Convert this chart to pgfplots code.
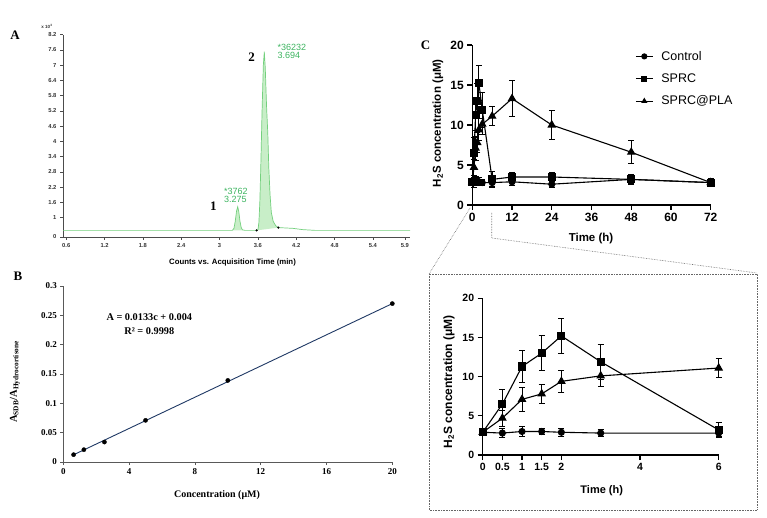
\documentclass[border=0pt]{standalone}
\usepackage{pgfplots}
\pgfplotsset{compat=1.18}
\usepackage{pgfplotstable}
\usepackage{fontspec}
\setmainfont{Liberation Serif}
\setsansfont{Liberation Sans}

\definecolor{gline}{RGB}{115,208,125}
\definecolor{gfill}{RGB}{200,238,200}
\definecolor{gtext}{RGB}{60,180,95}
\definecolor{navy}{RGB}{31,56,100}
\newcommand{\fs}[1]{\fontsize{#1}{#1}\selectfont}

% H2S release: time, control, sd, SPRC, sd, SPRC@PLA, sd
\pgfplotstableread{
t   c   ce   s    se   p    pe
0   2.9 0.4  2.9  0.4  2.9  0.4
0.5 2.8 0.6  6.5  1.9  4.7  1.0
1   3.0 0.6  11.3 2.0  7.1  1.5
1.5 3.0 0.4  13.0 2.2  7.8  1.2
2   2.9 0.5  15.2 2.2  9.4  1.4
3   2.8 0.4  11.9 2.2  10.1 1.3
6   2.8 0.5  3.2  1.0  11.1 1.2
12  2.9 0.5  3.5  0.5  13.3 2.2
24  2.6 0.4  3.5  0.6  10.0 1.8
48  3.2 0.5  3.2  0.6  6.6  1.4
72  2.8 0.4  2.8  0.5  2.8  0.4
}\hsdata

\pgfplotsset{
  gp/.style={scale only axis, axis x line*=bottom, axis y line*=left,
    tick align=outside, major tick length=5pt, clip=false,
    axis line style={line width=1.2pt}, tick style={line width=1.2pt, black},
    /pgf/number format/assume math mode=true},
  ser/.style={black, line width=1.1pt, mark=#1,
    /pgfplots/error bars/y dir=both, /pgfplots/error bars/y explicit,
    /pgfplots/error bars/error bar style={line width=1pt, black},
    /pgfplots/error bars/error mark options={rotate=90, mark size=3pt, line width=1pt, black}},
}

\begin{document}
\begin{tikzpicture}
\useasboundingbox (0pt,0pt) rectangle (767pt,-518pt);

% ---------- A: chromatogram
\begin{axis}[at={(63pt,-237pt)}, anchor=south west, scale only axis,
  width=347pt, height=202.3pt,
  xmin=0.55, xmax=5.98, ymin=0.24, ymax=8.2,
  axis x line*=bottom, axis y line*=left,
  xtick={0.6,1.2,1.8,2.4,3,3.6,4.2,4.8,5.4,5.9},
  xticklabels={0.6,1.2,1.8,2.4,3,3.6,4.2,4.8,5.4,5.9},
  ytick={0.24,1,1.6,2.2,2.8,3.4,4,4.6,5.2,5.8,6.4,7,7.6,8.2},
  yticklabels={0,1,1.6,2.2,2.8,3.4,4,4.6,5.2,5.8,6.4,7,7.6,8.2},
  minor x tick num=4, minor y tick num=2,
  tick align=outside, major tick length=3pt, minor tick length=1.8pt,
  axis line style={black!70, line width=0.6pt},
  tick style={black!70, line width=0.4pt},
  ticklabel style={font=\sffamily\bfseries\fs{5.8}, text=black!80},
  /pgf/number format/assume math mode=true]
\addplot[fill=gfill, draw=none] coordinates {
  (3.20,0.5)(3.225,0.58)(3.245,0.85)(3.265,1.25)(3.284,1.43)(3.30,1.25)
  (3.32,0.85)(3.34,0.6)(3.36,0.5)} --cycle;
\addplot[fill=gfill, draw=none] coordinates {
  (3.58,0.5)(3.60,0.52)(3.615,0.8)(3.63,1.6)(3.645,3.0)(3.665,5.2)(3.685,7.0)
  (3.70,7.53)(3.715,6.9)(3.735,5.4)(3.755,4.3)(3.77,3.0)(3.79,1.9)(3.81,1.2)
  (3.84,0.85)(3.88,0.68)(3.92,0.61)} --cycle;
\addplot[gline, line width=0.7pt] coordinates {
  (0.55,0.5)(3.20,0.5)(3.225,0.58)(3.245,0.85)(3.265,1.25)(3.284,1.43)(3.30,1.25)
  (3.32,0.85)(3.34,0.6)(3.36,0.52)(3.40,0.5)(3.58,0.5)(3.60,0.52)(3.615,0.8)
  (3.63,1.6)(3.645,3.0)(3.665,5.2)(3.685,7.0)(3.70,7.53)(3.715,6.9)(3.735,5.4)
  (3.755,4.3)(3.77,3.0)(3.79,1.9)(3.81,1.2)(3.84,0.85)(3.88,0.68)(3.92,0.61)
  (4.0,0.6)(4.15,0.58)(4.3,0.53)(4.5,0.5)(5.98,0.5)};
\addplot[only marks, mark=*, mark size=0.9pt, black] coordinates {(3.58,0.5)(3.92,0.61)};
\end{axis}

% ---------- B: calibration
\begin{axis}[at={(63.3pt,-462pt)}, anchor=south west, scale only axis,
  width=329pt, height=176pt,
  xmin=0, xmax=20, ymin=0, ymax=0.3,
  axis x line*=bottom, axis y line*=left,
  xtick={0,4,8,12,16,20},
  ytick={0,0.05,0.1,0.15,0.2,0.25,0.3},
  yticklabels={0,0.05,0.1,0.15,0.2,0.25,0.3},
  tick align=outside, major tick length=3pt,
  axis line style={black!65, line width=0.7pt},
  tick style={black!65, line width=0.6pt},
  ticklabel style={font=\bfseries\fs{9}},
  /pgf/number format/assume math mode=true, clip=false]
\addplot[navy, line width=0.9pt] coordinates {(0.625,0.0123)(20,0.27)};
\addplot[only marks, mark=*, mark size=2.1pt, black] coordinates {
  (0.625,0.0125)(1.25,0.021)(2.5,0.034)(5,0.071)(10,0.139)(20,0.27)};
\end{axis}

% ---------- C: H2S release 0-72 h
\begin{axis}[gp, at={(472.3pt,-205pt)}, anchor=south west,
  width=238.4pt, height=160pt,
  xmin=0, xmax=72, ymin=0, ymax=20,
  xtick={0,12,24,36,48,60,72}, ytick={0,5,10,15,20},
  ticklabel style={font=\sffamily\bfseries\fs{12}},
  legend style={draw=none, fill=none, at={(0.67,0.988)}, anchor=north west,
    font=\sffamily\fs{12.5}, row sep=8pt,
    /tikz/every odd column/.append style={column sep=6pt}},
  legend image post style={mark size=2.5pt},
  legend cell align=left]
\addplot[ser={*}, mark size=3pt] table[x=t, y=c, y error=ce]{\hsdata};
\addplot[ser={square*}, mark size=3.5pt] table[x=t, y=s, y error=se]{\hsdata};
\addplot[ser={triangle*}, mark size=4pt] table[x=t, y=p, y error=pe]{\hsdata};
\legend{Control, SPRC, SPRC@PLA}
\end{axis}

% ---------- inset 0-6 h
\begin{axis}[gp, at={(482.7pt,-455pt)}, anchor=south west,
  width=236pt, height=156.7pt,
  xmin=0, xmax=6, ymin=0, ymax=20,
  xtick={0,0.5,1,1.5,2,4,6}, xticklabels={0,0.5,1,1.5,2,4,6},
  ytick={0,5,10,15,20},
  ticklabel style={font=\sffamily\bfseries\fs{10.5}},
  restrict x to domain=0:6]
\addplot[ser={*}, mark size=3pt] table[x=t, y=c, y error=ce]{\hsdata};
\addplot[ser={square*}, mark size=3.5pt] table[x=t, y=s, y error=se]{\hsdata};
\addplot[ser={triangle*}, mark size=4pt] table[x=t, y=p, y error=pe]{\hsdata};
\end{axis}

% ---------- texts
\node[font=\bfseries\fs{13}] at (15pt,-35pt) {A};
\node[font=\bfseries\fs{13}] at (18pt,-276pt) {B};
\node[font=\bfseries\fs{13}] at (425.5pt,-45pt) {C};
\node[font=\sffamily\bfseries\fs{4.5}, text=black!80] at (47pt,-26.5pt) {x 10\textsuperscript{3}};
\node[font=\sffamily\bfseries\fs{7.8}] at (232.5pt,-262pt) {Counts vs. Acquisition Time (min)};
\node[font=\sffamily\fs{9}, text=gtext, anchor=west, align=left] at (274pt,-51pt) {*36232\\[-1pt]3.694};
\node[font=\sffamily\fs{9}, text=gtext, anchor=west, align=left] at (220.5pt,-195pt) {*3762\\[-1pt]3.275};
\node[font=\bfseries\fs{13}] at (251.7pt,-57.3pt) {2};
\node[font=\bfseries\fs{13}] at (213.3pt,-206.7pt) {1};

\node[font=\bfseries\fs{10.3}] at (149.3pt,-316.7pt) {A = 0.0133c + 0.004};
\node[font=\bfseries\fs{10.3}] at (149.3pt,-331pt) {R² = 0.9998};
\node[font=\bfseries\fs{10}] at (217pt,-495pt) {Concentration (μM)};
\node[font=\bfseries\fs{10.5}, rotate=90] at (15pt,-381.7pt) {A\textsubscript{SDB}/A\textsubscript{Hydrocortisone}};

\node[font=\sffamily\bfseries\fs{11.5}, rotate=90] at (438pt,-123.3pt) {H\textsubscript{2}S concentration (μM)};
\node[font=\sffamily\bfseries\fs{11.5}] at (591pt,-239pt) {Time (h)};
\node[font=\sffamily\bfseries\fs{12}, rotate=90] at (449pt,-381.7pt) {H\textsubscript{2}S concentration (μM)};
\node[font=\sffamily\bfseries\fs{11}] at (601.7pt,-491pt) {Time (h)};

% ---------- zoom guides
\draw[densely dotted, black!60, line width=0.6pt] (470pt,-208pt) -- (429pt,-274pt);
\draw[densely dotted, black!60, line width=0.6pt] (491.7pt,-213pt) -- (491.7pt,-238pt) -- (757pt,-273pt);
\draw[densely dotted, black!60, line width=0.6pt] (429pt,-274pt) rectangle (757pt,-510pt);
\end{tikzpicture}
\end{document}
